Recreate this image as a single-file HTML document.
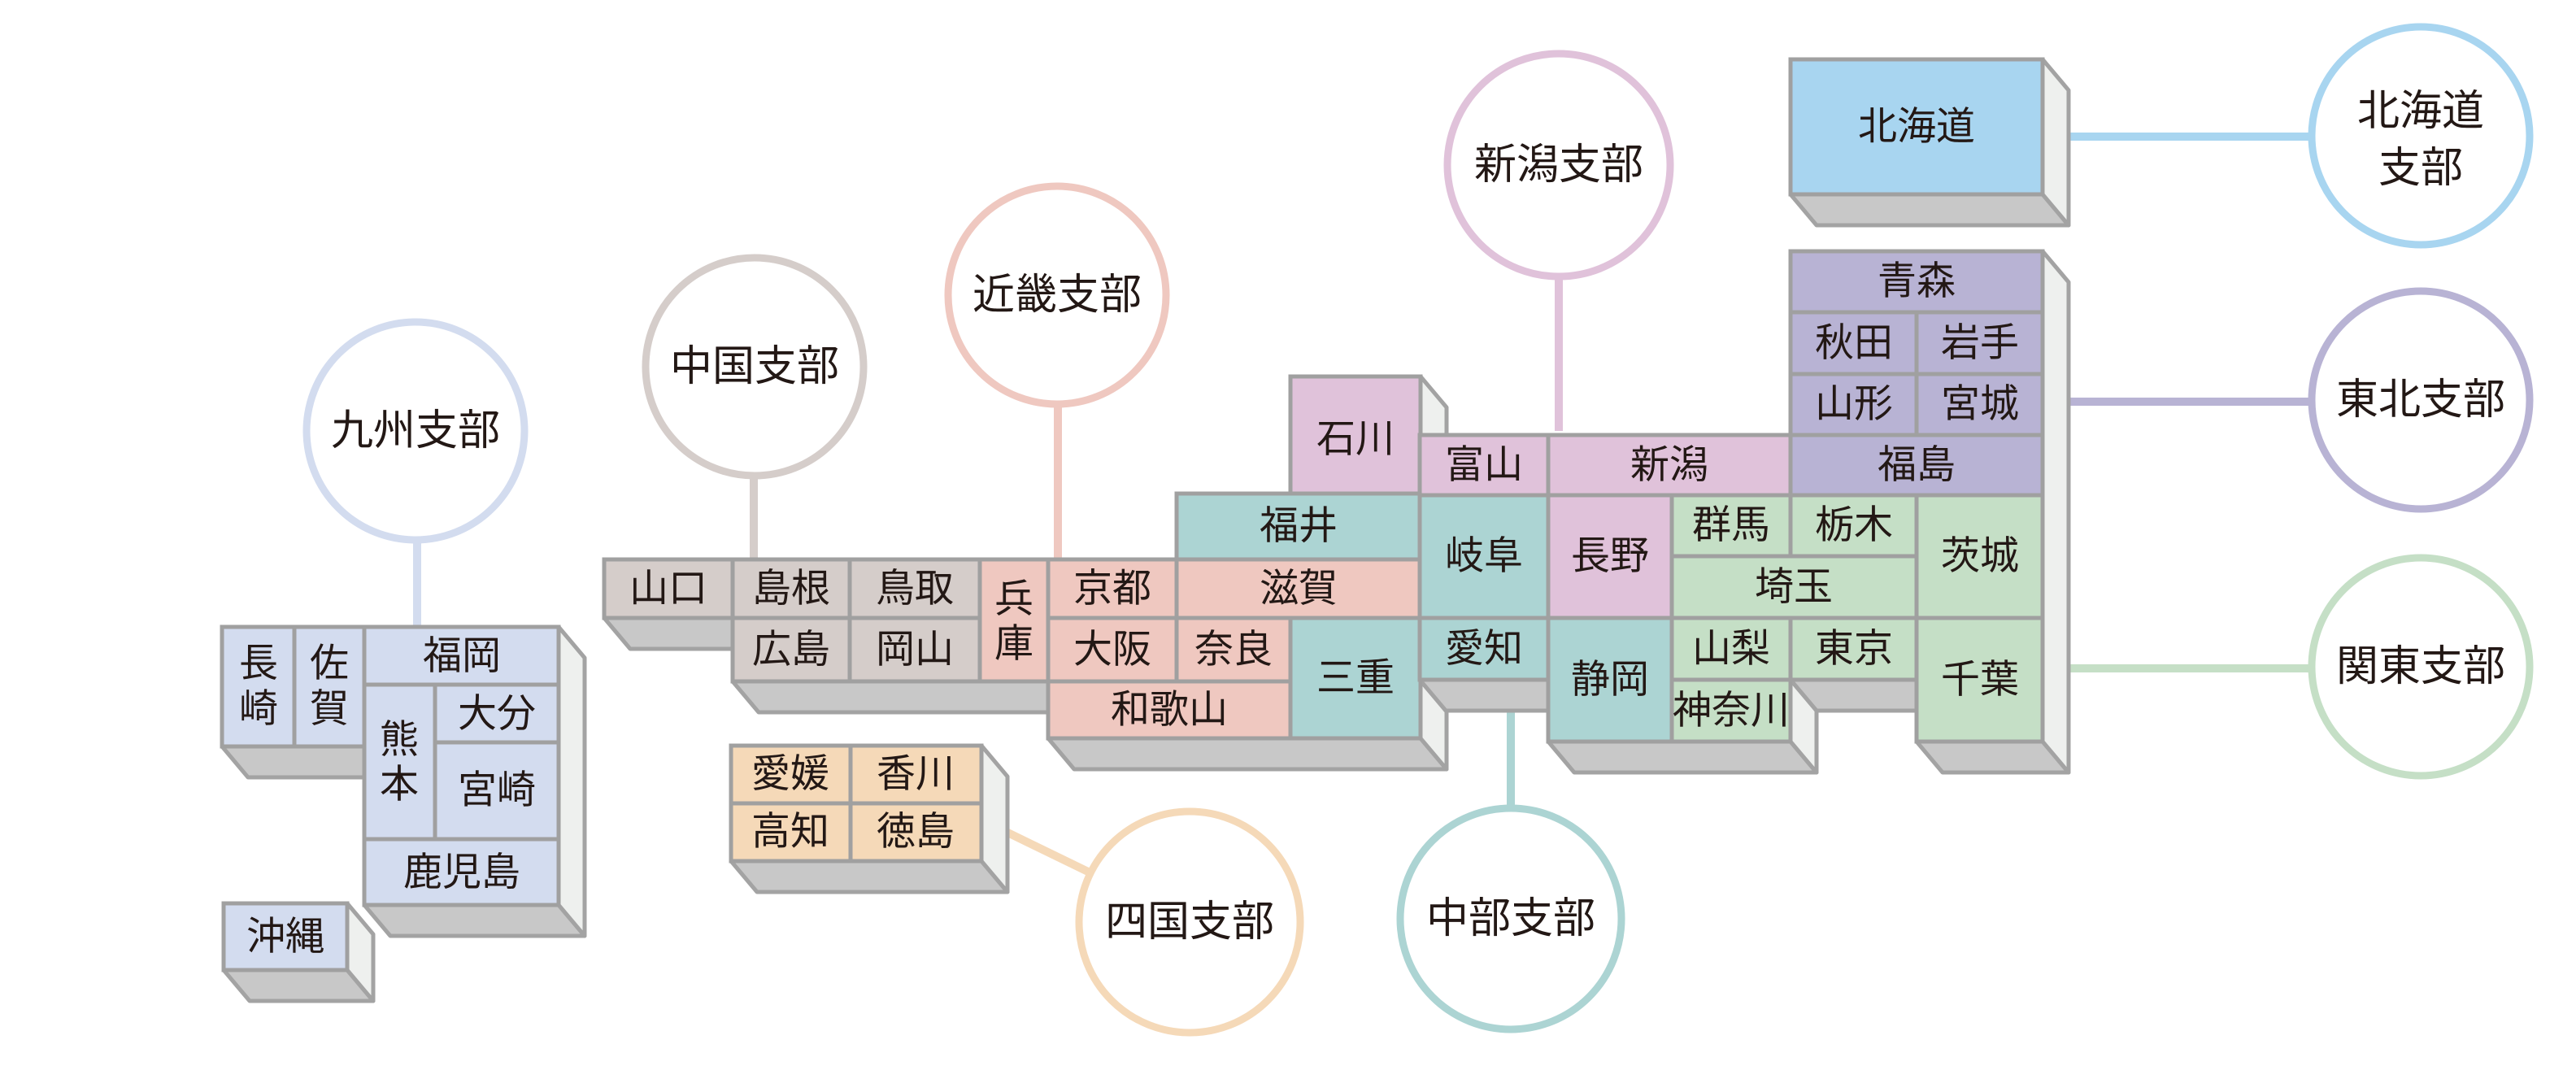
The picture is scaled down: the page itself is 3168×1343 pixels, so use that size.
<!DOCTYPE html>
<html><head><meta charset="utf-8"><style>
html,body{margin:0;padding:0;background:#fff;}
svg{display:block;}
text{font-family:"Liberation Sans","Noto Sans CJK JP",sans-serif;fill:#231815;text-anchor:middle;dominant-baseline:central;}
.p{font-size:48px;}
.c{font-size:52px;}
.f{stroke:#a0a0a0;stroke-width:5;}
.bf{fill:#c8c8c8;stroke:#a3a3a3;stroke-width:5;stroke-linejoin:round;}
.rf{fill:#eef0ee;stroke:#a3a3a3;stroke-width:5;stroke-linejoin:round;}
.ln{stroke-width:10;fill:none;}
.ci{fill:#fff;stroke-width:9;}
</style></head><body>
<svg width="3168" height="1343" viewBox="0 0 3168 1343" xmlns="http://www.w3.org/2000/svg">
<!-- connector lines -->
<line class="ln" stroke="#d3dcef" x1="513" y1="660" x2="513" y2="775"/>
<line class="ln" stroke="#d5cdca" x1="927" y1="580" x2="927" y2="690"/>
<line class="ln" stroke="#efc8c0" x1="1301" y1="495" x2="1301" y2="690"/>
<line class="ln" stroke="#e0c2da" x1="1917" y1="340" x2="1917" y2="530"/>
<line class="ln" stroke="#a8d5f0" x1="2532" y1="168" x2="2845" y2="168"/>
<line class="ln" stroke="#b8b3d4" x1="2532" y1="494" x2="2845" y2="494"/>
<line class="ln" stroke="#c5dfc6" x1="2532" y1="822" x2="2845" y2="822"/>
<line class="ln" stroke="#acd4d3" x1="1858" y1="860" x2="1858" y2="995"/>
<line class="ln" stroke="#f5d9b8" x1="1225" y1="1017" x2="1338" y2="1072"/>

<!-- extrusion faces -->
<g>
<polygon class="bf" points="273,918 448,918 480,956 305,956"/>
<polygon class="bf" points="448,1113 687,1113 719,1151 480,1151"/>
<polygon class="rf" points="687,771 719,809 719,1151 687,1113"/>
<polygon class="bf" points="275,1193 427,1193 459,1231 307,1231"/>
<polygon class="rf" points="427,1111 459,1149 459,1231 427,1193"/>
<polygon class="bf" points="743,760 901,760 933,798 775,798"/>
<polygon class="bf" points="901,838 1289,838 1321,876 933,876"/>
<polygon class="bf" points="1289,908 1747,908 1779,946 1321,946"/>
<polygon class="rf" points="1747,760 1779,798 1779,946 1747,908"/>
<polygon class="rf" points="1747,463 1779,501 1779,573 1747,535"/>
<polygon class="bf" points="1746,836 1904,836 1936,874 1778,874"/>
<polygon class="bf" points="1904,912 2202,912 2234,950 1936,950"/>
<polygon class="rf" points="2202,836 2234,874 2234,950 2202,912"/>
<polygon class="bf" points="2202,836 2357,836 2389,874 2234,874"/>
<polygon class="bf" points="2357,912 2512,912 2544,950 2389,950"/>
<polygon class="rf" points="2512,309 2544,347 2544,950 2512,912"/>
<polygon class="bf" points="899,1059 1207,1059 1239,1097 931,1097"/>
<polygon class="rf" points="1207,917 1239,955 1239,1097 1207,1059"/>
<polygon class="bf" points="2202,239 2512,239 2544,277 2234,277"/>
<polygon class="rf" points="2512,73 2544,111 2544,277 2512,239"/>
</g>

<!-- Kyushu -->
<g fill="#d3dcef">
<rect class="f" x="273" y="771" width="89" height="147"/>
<rect class="f" x="362" y="771" width="86" height="147"/>
<rect class="f" x="448" y="771" width="239" height="71"/>
<rect class="f" x="448" y="842" width="87" height="190"/>
<rect class="f" x="535" y="842" width="152" height="71"/>
<rect class="f" x="535" y="913" width="152" height="119"/>
<rect class="f" x="448" y="1032" width="239" height="81"/>
<rect class="f" x="275" y="1111" width="152" height="82"/>
</g>
<text class="p" x="318" y="816">長</text><text class="p" x="318" y="872">崎</text>
<text class="p" x="405" y="816">佐</text><text class="p" x="405" y="872">賀</text>
<text class="p" x="568" y="807">福岡</text>
<text class="p" x="491" y="910">熊</text><text class="p" x="491" y="965">本</text>
<text class="p" x="611" y="878">大分</text>
<text class="p" x="611" y="972">宮崎</text>
<text class="p" x="568" y="1073">鹿児島</text>
<text class="p" x="351" y="1152">沖縄</text>

<!-- Chugoku -->
<g fill="#d5cdca">
<rect class="f" x="743" y="688" width="158" height="72"/>
<rect class="f" x="901" y="688" width="144" height="72"/>
<rect class="f" x="1045" y="688" width="160" height="72"/>
<rect class="f" x="901" y="760" width="144" height="78"/>
<rect class="f" x="1045" y="760" width="160" height="78"/>
</g>
<text class="p" x="822" y="724">山口</text>
<text class="p" x="973" y="724">島根</text>
<text class="p" x="1125" y="724">鳥取</text>
<text class="p" x="973" y="799">広島</text>
<text class="p" x="1125" y="799">岡山</text>

<!-- Kinki -->
<g fill="#efc8c0">
<rect class="f" x="1205" y="688" width="84" height="150"/>
<rect class="f" x="1289" y="688" width="158" height="72"/>
<rect class="f" x="1447" y="688" width="300" height="72"/>
<rect class="f" x="1289" y="760" width="158" height="78"/>
<rect class="f" x="1447" y="760" width="140" height="78"/>
<rect class="f" x="1289" y="838" width="298" height="70"/>
</g>
<text class="p" x="1247" y="737">兵</text><text class="p" x="1247" y="792">庫</text>
<text class="p" x="1368" y="724">京都</text>
<text class="p" x="1597" y="724">滋賀</text>
<text class="p" x="1368" y="799">大阪</text>
<text class="p" x="1517" y="799">奈良</text>
<text class="p" x="1438" y="873">和歌山</text>

<!-- Shikoku -->
<g fill="#f5d9b8">
<rect class="f" x="899" y="917" width="147" height="71"/>
<rect class="f" x="1046" y="917" width="161" height="71"/>
<rect class="f" x="899" y="988" width="147" height="71"/>
<rect class="f" x="1046" y="988" width="161" height="71"/>
</g>
<text class="p" x="972" y="952">愛媛</text>
<text class="p" x="1126" y="952">香川</text>
<text class="p" x="972" y="1023">高知</text>
<text class="p" x="1126" y="1023">徳島</text>

<!-- Chubu -->
<g fill="#acd4d3">
<rect class="f" x="1587" y="760" width="160" height="148"/>
<rect class="f" x="1447" y="607" width="300" height="81"/>
<rect class="f" x="1746" y="609" width="158" height="151"/>
<rect class="f" x="1746" y="760" width="158" height="76"/>
<rect class="f" x="1904" y="760" width="152" height="152"/>
</g>
<g fill="#e0c2da">
<rect class="f" x="1587" y="463" width="160" height="144"/>
<rect class="f" x="1746" y="535" width="158" height="74"/>
<rect class="f" x="1904" y="535" width="298" height="74"/>
<rect class="f" x="1904" y="609" width="152" height="151"/>
</g>
<text class="p" x="1667" y="834">三重</text>
<text class="p" x="1597" y="647">福井</text>
<text class="p" x="1667" y="540">石川</text>
<text class="p" x="1825" y="572">富山</text>
<text class="p" x="2053" y="572">新潟</text>
<text class="p" x="1825" y="684">岐阜</text>
<text class="p" x="1980" y="684">長野</text>
<text class="p" x="1825" y="798">愛知</text>
<text class="p" x="1980" y="836">静岡</text>

<!-- Kanto -->
<g fill="#c5dfc6">
<rect class="f" x="2056" y="609" width="146" height="75"/>
<rect class="f" x="2202" y="609" width="155" height="75"/>
<rect class="f" x="2056" y="684" width="301" height="76"/>
<rect class="f" x="2056" y="760" width="146" height="76"/>
<rect class="f" x="2056" y="836" width="146" height="76"/>
<rect class="f" x="2202" y="760" width="155" height="76"/>
<rect class="f" x="2357" y="609" width="155" height="151"/>
<rect class="f" x="2357" y="760" width="155" height="152"/>
</g>
<text class="p" x="2129" y="646">群馬</text>
<text class="p" x="2280" y="646">栃木</text>
<text class="p" x="2206" y="722">埼玉</text>
<text class="p" x="2129" y="798">山梨</text>
<text class="p" x="2129" y="874">神奈川</text>
<text class="p" x="2280" y="798">東京</text>
<text class="p" x="2435" y="684">茨城</text>
<text class="p" x="2435" y="836">千葉</text>

<!-- Tohoku -->
<g fill="#b8b3d4">
<rect class="f" x="2202" y="309" width="310" height="75"/>
<rect class="f" x="2202" y="384" width="155" height="76"/>
<rect class="f" x="2357" y="384" width="155" height="76"/>
<rect class="f" x="2202" y="460" width="155" height="75"/>
<rect class="f" x="2357" y="460" width="155" height="75"/>
<rect class="f" x="2202" y="535" width="310" height="74"/>
</g>
<text class="p" x="2357" y="346">青森</text>
<text class="p" x="2280" y="422">秋田</text>
<text class="p" x="2435" y="422">岩手</text>
<text class="p" x="2280" y="497">山形</text>
<text class="p" x="2435" y="497">宮城</text>
<text class="p" x="2357" y="572">福島</text>

<!-- Hokkaido -->
<rect class="f" fill="#a8d5f0" x="2202" y="73" width="310" height="166"/>
<text class="p" x="2357" y="156">北海道</text>

<!-- circles -->
<circle class="ci" stroke="#d3dcef" cx="511" cy="530" r="134"/>
<text class="c" x="511" y="530">九州支部</text>
<circle class="ci" stroke="#d5cdca" cx="928" cy="451" r="134"/>
<text class="c" x="928" y="451">中国支部</text>
<circle class="ci" stroke="#efc8c0" cx="1300" cy="363" r="134"/>
<text class="c" x="1300" y="363">近畿支部</text>
<circle class="ci" stroke="#e0c2da" cx="1917" cy="203" r="137"/>
<text class="c" x="1917" y="203">新潟支部</text>
<circle class="ci" stroke="#a8d5f0" cx="2977" cy="167" r="134"/>
<text class="c" x="2977" y="137">北海道</text>
<text class="c" x="2977" y="207">支部</text>
<circle class="ci" stroke="#b8b3d4" cx="2977" cy="492" r="134"/>
<text class="c" x="2977" y="492">東北支部</text>
<circle class="ci" stroke="#c5dfc6" cx="2977" cy="820" r="134"/>
<text class="c" x="2977" y="820">関東支部</text>
<circle class="ci" stroke="#acd4d3" cx="1858" cy="1130" r="136"/>
<text class="c" x="1858" y="1130">中部支部</text>
<circle class="ci" stroke="#f5d9b8" cx="1463" cy="1134" r="136"/>
<text class="c" x="1463" y="1134">四国支部</text>
</svg>
</body></html>
